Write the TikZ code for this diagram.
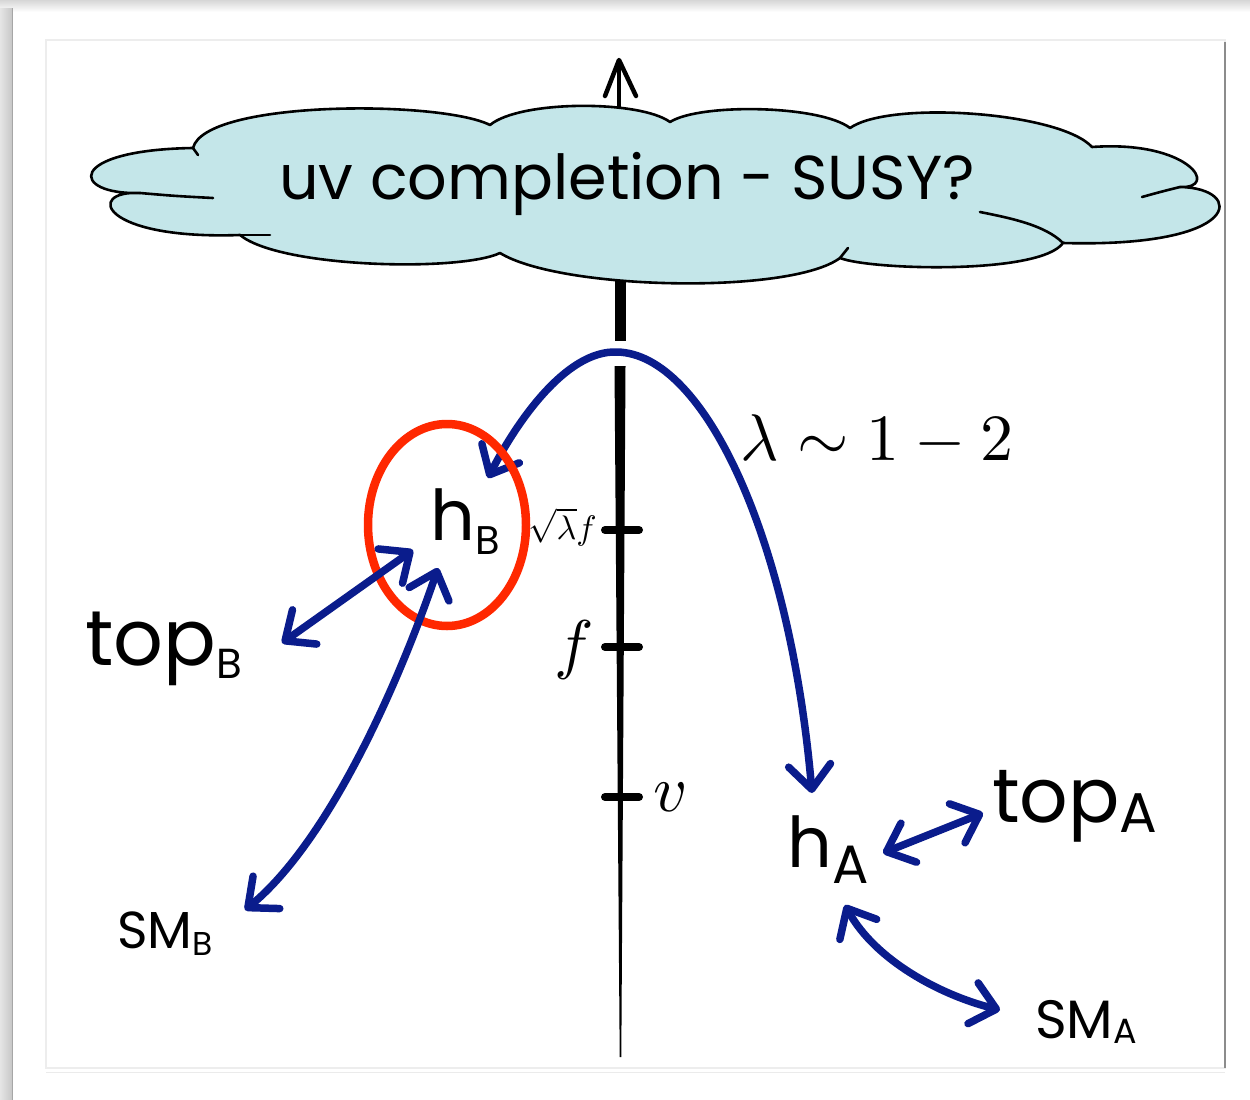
\documentclass[tikz,border=0pt]{standalone}
\usepackage{fontspec}
\usepackage{graphicx}
\newfontfamily\hand{Poppins}
\usetikzlibrary{arrows.meta,calc}
\definecolor{navy}{RGB}{10,28,140}
\definecolor{redring}{RGB}{255,40,0}
\definecolor{cloudfill}{RGB}{196,230,233}
\newcommand\subtx[3]{\raisebox{-#1pt}{\fontsize{#2}{#2}\selectfont #3}}
\begin{document}
\begin{tikzpicture}[x=1pt,y=-1pt,
  hw/.style={inner sep=0pt, anchor=base west, font=\hand},
  mathlbl/.style={inner sep=0pt},
  conn/.style={navy, line width=7.5pt, line cap=round,
    {Straight Barb[length=24pt,width=42pt,round]}-{Straight Barb[length=24pt,width=42pt,round]}},
  cloudline/.style={line width=2.6pt, line cap=round, line join=round},
  tickmark/.style={line width=8pt, line cap=round}]
\useasboundingbox (0,0) rectangle (1250,1100);
% page and frame
\fill[white] (0,0) rectangle (1250,1100);
\shade[top color=black!16, bottom color=white] (0,0) rectangle (1250,12);
\shade[left color=black!10, right color=black!22] (0,8) rectangle (12,1100);
\draw[black!35, line width=1.5pt] (12.5,8) -- (12.5,1100);
\draw[black!7, line width=1.5pt] (46,40) rectangle (1225,1068);
\draw[black!45, line width=1.5pt] (1225,42) -- (1225,1068);
\draw[black!8, line width=1pt] (46,1072) -- (1225,1072);
% axis
\draw[line width=3.5pt] (619,115) -- (619,64);
\draw[line width=4.5pt, line cap=round, line join=round] (605,96) -- (619,60) -- (636,96);
\fill (614.5,270) -- (625.5,270) -- (625.5,341) -- (614.5,341) -- cycle;
\fill (614.5,366) -- (625.5,366) -- (621.3,1057) -- (619.7,1057) -- cycle;
\draw[tickmark] (605,530) -- (639,530);
\draw[tickmark] (605,647) -- (639,647);
\draw[tickmark] (605,797) -- (639,797);
% cloud
\filldraw[fill=cloudfill, draw=black, cloudline]
 (193,148) .. controls (205,100) and (440,100) .. (490,125)
 .. controls (520,100) and (640,100) .. (670,122)
 .. controls (700,103) and (820,105) .. (850,128)
 .. controls (890,100) and (1060,112) .. (1092,147)
 .. controls (1190,140) and (1220,189) .. (1180,187)
 .. controls (1245,188) and (1245,248) .. (1063,243)
 .. controls (1040,275) and (870,270) .. (840,258)
 .. controls (790,295) and (560,290) .. (500,253)
 .. controls (460,272) and (280,268) .. (240,235)
 .. controls (100,240) and (85,190) .. (140,193)
 .. controls (70,195) and (65,150) .. (193,148) -- cycle;
\draw[cloudline] (140,193) .. controls (175,196) .. (213,198);
\draw[cloudline] (240,235) -- (270,235);
\draw[cloudline] (1180,187) .. controls (1160,192) .. (1142,197);
\draw[cloudline] (1063,243) .. controls (1045,225) and (1010,218) .. (980,212);
\draw[cloudline] (840,258) -- (848,248);
\draw[cloudline] (193,148) -- (198,155);
\node[inner sep=0pt, font=\hand\fontsize{62}{62}\selectfont] (uv) at (627,184) {uv completion - SUSY?};
% labels
\node[hw] (hB) at (430,540) {\fontsize{70}{70}\selectfont h\subtx{14}{40}{B}};
\node[hw] (hA) at (787,867) {\fontsize{70}{70}\selectfont h\subtx{16}{54}{A}};
\node[hw] (topB) at (85,665) {\fontsize{78}{78}\selectfont top\subtx{13}{42}{B}};
\node[hw] (topA) at (992,822) {\fontsize{76}{76}\selectfont top\subtx{10}{56}{A}};
\node[hw] (smB) at (117,948) {\fontsize{52}{52}\selectfont SM\subtx{7}{33}{B}};
\node[hw] (smA) at (1035,1038) {\fontsize{54}{54}\selectfont SM\subtx{5}{35}{A}};
\node[mathlbl, anchor=east] (lsq) at (597,527) {\scalebox{3.4}{$\sqrt{\lambda}f$}};
\node[mathlbl] (lf) at (574,650) {\scalebox{6.6}{$f$}};
\node[mathlbl, anchor=west] (lv) at (653,797) {\scalebox{6.6}{$v$}};
\node[mathlbl, anchor=base west] (lam) at (740,460) {\scalebox{6.6}{$\lambda\sim1-2$}};
% big arc
\draw[conn] ($(hB.base west)+(58,-62)$) .. controls (515,425) and (565,350) .. (617,352)
  .. controls (705,354) and (790,540) .. ($(hA.base west)+(25,-74)$);
% red ring
\draw[redring, line width=8.5pt] (447,525) ellipse [x radius=79, y radius=101];
% small arrows
\draw[conn] ($(hB.base west)+(-17,10)$) -- ($(topB.base west)+(197,-22)$);
\draw[conn] ($(hB.base west)+(8,28)$) .. controls (400,680) and (330,840) .. ($(smB.base west)+(128,-38)$);
\draw[conn] ($(hA.base west)+(96,-14)$) -- ($(topA.base west)+(-9,-9)$);
\draw[conn] ($(hA.base west)+(58,38)$) .. controls (875,960) and (940,995) .. ($(smA.base west)+(-35,-28)$);
\end{tikzpicture}
\end{document}
